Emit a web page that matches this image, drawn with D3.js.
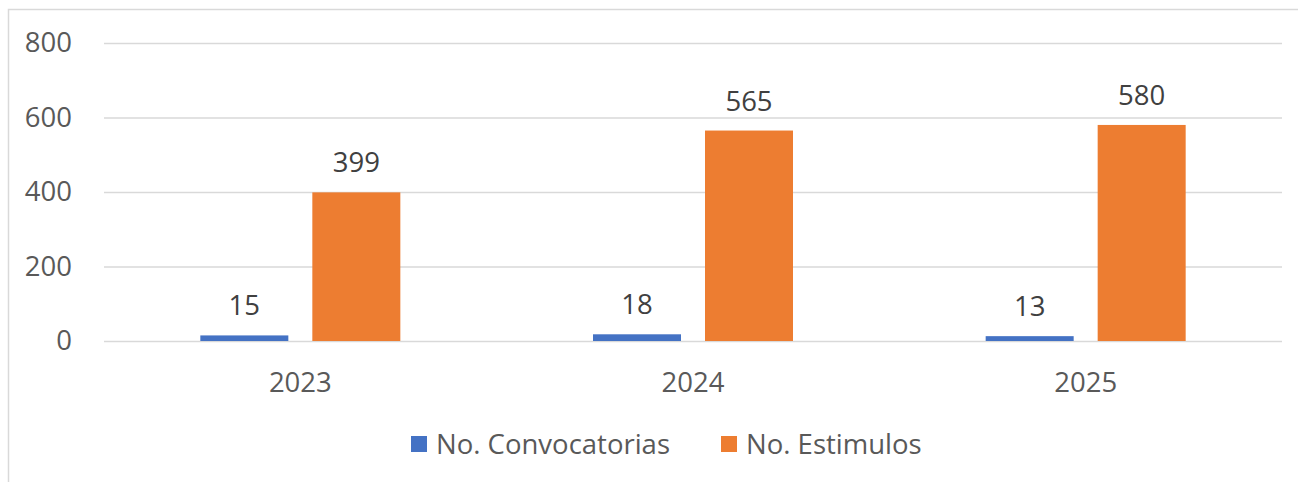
<!DOCTYPE html>
<html><head><meta charset="utf-8">
<script src="https://cdn.jsdelivr.net/npm/d3@7"></script>
<style>html,body{margin:0;padding:0;background:#fff;overflow:hidden}</style>
</head><body>
<svg id="c" width="1298" height="482"></svg>
<script>
const categories = ["2023", "2024", "2025"];
const seriesNames = ["No. Convocatorias", "No. Estimulos"];
const convocatorias = [15, 18, 13];
const estimulos = [399, 565, 580];
const yTicks = [0, 200, 400, 600, 800];
const colors = ["#4472C4", "#ED7D31"];

const svg = d3.select("#c");
const font = "'Open Sans', sans-serif";
const fs = "27.5px";
svg.append("rect").attr("x", 8.5).attr("y", 9.5).attr("width", 1400).attr("height", 600)
  .attr("fill", "#fff").attr("stroke", "#d9d9d9").attr("stroke-width", 1.5);

const pLeft = 104, pRight = 1282, pTop = 43, pBottom = 341;
const x = d3.scaleBand().domain(categories).range([pLeft, pRight]);
const y = d3.scaleLinear().domain([0, 800]).range([pBottom, pTop]);
const barW = 88, gap = 24;
const xs = d3.scaleBand().domain(seriesNames).range([0, barW * 2 + gap]).paddingInner(gap / (barW + gap)).paddingOuter(0);

// gridlines
const yAxis = d3.axisLeft(y).tickValues(yTicks).tickSize(-(pRight - pLeft)).tickFormat(d3.format("d")).tickPadding(32);
const gy = svg.append("g").attr("transform", `translate(${pLeft},0)`).call(yAxis);
gy.select(".domain").remove();
gy.selectAll(".tick line").attr("stroke", "#d9d9d9").attr("stroke-width", 1.5);
gy.selectAll(".tick text").attr("fill", "#595959").style("font-family", font).style("font-size", fs);

const xAxis = d3.axisBottom(x).tickSize(0).tickPadding(31);
const gx = svg.append("g").attr("transform", `translate(0,${pBottom})`).call(xAxis);
gx.select(".domain").remove();
gx.selectAll(".tick text").attr("fill", "#595959").style("font-family", font).style("font-size", fs);

const series = [convocatorias, estimulos];
const groupOffset = (x.bandwidth() - (barW * 2 + gap)) / 2;
series.forEach((vals, si) => {
  const g = svg.append("g");
  g.selectAll("rect").data(categories).join("rect")
    .attr("x", (c) => x(c) + groupOffset + xs(seriesNames[si]))
    .attr("width", xs.bandwidth())
    .attr("y", (c, i) => y(vals[i]))
    .attr("height", (c, i) => y(0) - y(vals[i]))
    .attr("fill", colors[si]);
  g.selectAll("text").data(categories).join("text")
    .attr("x", (c) => x(c) + groupOffset + xs(seriesNames[si]) + xs.bandwidth() / 2)
    .attr("y", (c, i) => y(vals[i]) - 20)
    .attr("text-anchor", "middle")
    .attr("fill", "#404040").style("font-family", font).style("font-size", fs)
    .text((c, i) => vals[i]);
});

// legend
const legend = svg.append("g");
const items = [{ x: 411, name: seriesNames[0], c: colors[0] }, { x: 721, name: seriesNames[1], c: colors[1] }];
items.forEach(it => {
  legend.append("rect").attr("x", it.x).attr("y", 436).attr("width", 16).attr("height", 16).attr("fill", it.c);
  legend.append("text").attr("x", it.x + 25).attr("y", 444).attr("dy", "0.35em")
    .attr("fill", "#595959").style("font-family", font).style("font-size", fs).text(it.name);
});
</script>
</body></html>
